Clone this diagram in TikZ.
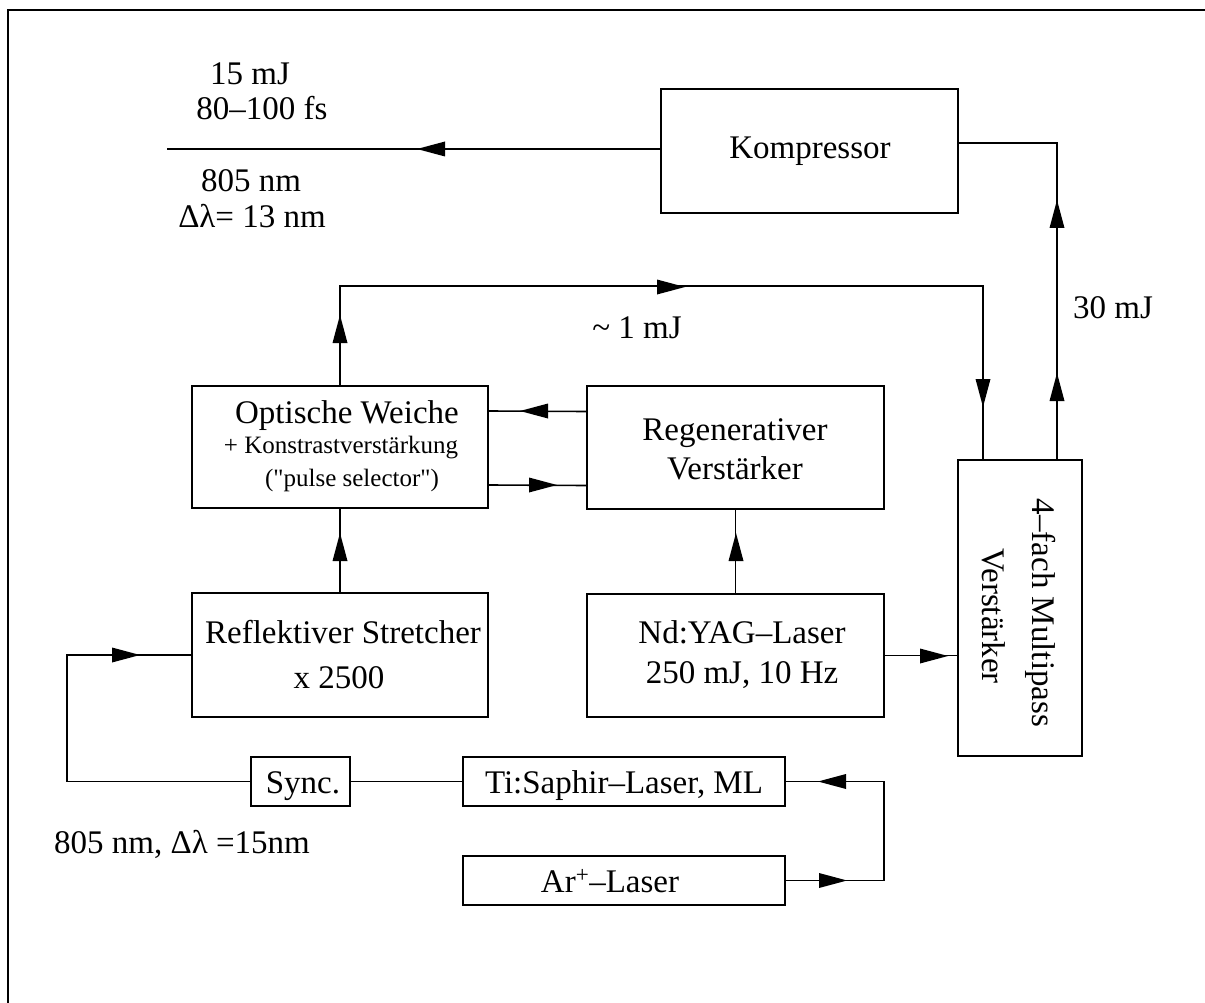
\documentclass[tikz,border=0pt]{standalone}
\usepackage{fontspec}
\setmainfont{Liberation Serif}
\usetikzlibrary{arrows.meta}
\begin{document}
\begin{tikzpicture}[x=1pt,y=-1pt, line width=1.6pt,
  box/.style={draw, rectangle, inner sep=0pt, line width=1.6pt},
  txt/.style={inner sep=0pt, anchor=base, font=\fontsize{33}{40}\selectfont},
  stxt/.style={inner sep=0pt, anchor=base, font=\fontsize{25}{30}\selectfont},
  ahead/.pic={\fill (0,0) -- (-28,-7.5) -- (-28,7.5) -- cycle;}]
\useasboundingbox (0,0) rectangle (1205,1003);
% frame
\draw[line width=2pt] (8,1003) -- (8,10) -- (1205,10);
% boxes
\node[box, minimum width=297pt, minimum height=124pt] (komp) at (809.5,151) {};
\node[box, minimum width=296pt, minimum height=122pt] (opt) at (340,447) {};
\node[box, minimum width=297pt, minimum height=123pt] (regen) at (735.5,447.5) {};
\node[box, minimum width=296pt, minimum height=124pt] (stretch) at (340,655) {};
\node[box, minimum width=297pt, minimum height=123pt] (ndyag) at (735.5,655.5) {};
\node[box, minimum width=124pt, minimum height=296pt] (multi) at (1020,608) {};
\node[box, minimum width=99pt, minimum height=49pt] (sync) at (300.5,781.5) {};
\node[box, minimum width=322pt, minimum height=49pt] (tisa) at (624,781.5) {};
\node[box, minimum width=322pt, minimum height=49pt] (arp) at (624,880.5) {};
% coordinates
\coordinate (outL) at (167,149);
\coordinate (cL) at (67,655);
\coordinate (cR) at (884,781.5);
% connectors
\draw ([yshift=2pt]komp.west) -- (outL);
\draw ([xshift=37pt]multi.north) |- ([yshift=8pt]komp.east);
\draw (opt.north) -- ++(0,-99) -| ([xshift=-37pt]multi.north);
\draw ([yshift=36pt]regen.west) -- ([yshift=36pt]opt.east);
\draw ([yshift=-38pt]opt.east) -- ([yshift=-38pt]regen.west);
\draw (stretch.north) -- (opt.south);
\draw (ndyag.north) -- (regen.south);
\draw (ndyag.east) -- (ndyag.east -| multi.west);
\draw (sync.west) -| (cL) -- (stretch.west);
\draw (sync.east) -- (tisa.west);
\draw (arp.east) -| (cR) -- (tisa.east);
% arrowheads
\pic[rotate=180] at (417,149) {ahead};
\pic[rotate=90] at (1057,200) {ahead};
\pic[rotate=90] at (1057,373) {ahead};
\pic[rotate=90] at (340,315) {ahead};
\pic at (685,287) {ahead};
\pic[rotate=-90] at (983,407) {ahead};
\pic[rotate=180] at (520,411) {ahead};
\pic at (557,485) {ahead};
\pic[rotate=90] at (340,533) {ahead};
\pic[rotate=90] at (736,533) {ahead};
\pic at (948,656) {ahead};
\pic at (140,655) {ahead};
\pic[rotate=180] at (818,781.5) {ahead};
\pic at (847,880.5) {ahead};
% texts
\node[txt] (l15) at (250,85) {15 mJ};
\node[txt] (lfs) at (262,120) {80–100 fs};
\node[txt] (l805) at (251,192) {805 nm};
\node[txt] (ldl) at (252,228) {Δλ= 13 nm};
\node[txt] (kt) at (810,159) {Kompressor};
\node[txt] (l1mj) at (637,338) {\textasciitilde{} 1 mJ};
\node[txt] (l30) at (1113,318) {30 mJ};
\node[txt] (o1) at (347,423) {Optische Weiche};
\node[stxt] (o2) at (341,453) {+ Konstrastverstärkung};
\node[stxt] (o3) at (352,486) {(\textquotedbl pulse selector\textquotedbl)};
\node[txt] (r1) at (735,440) {Regenerativer};
\node[txt] (r2) at (735,479) {Verstärker};
\node[txt] (s1) at (343,643) {Reflektiver Stretcher};
\node[txt] (s2) at (339,688) {x 2500};
\node[txt] (n1) at (742,643) {Nd:YAG–Laser};
\node[txt] (n2) at (742,683) {250 mJ, 10 Hz};
\node[txt] (syt) at (303,793) {Sync.};
\node[txt] (tt) at (624,793) {Ti:Saphir–Laser, ML};
\node[txt] (at) at (610,892) {Ar\textsuperscript{+}–Laser};
\node[txt] (lb) at (182,853) {805 nm, Δλ =15nm};
\node[txt, rotate=-90] (mt1) at (1032,613) {4–fach Multipass};
\node[txt, rotate=-90] (mt2) at (982,616) {Verstärker};
\end{tikzpicture}
\end{document}
